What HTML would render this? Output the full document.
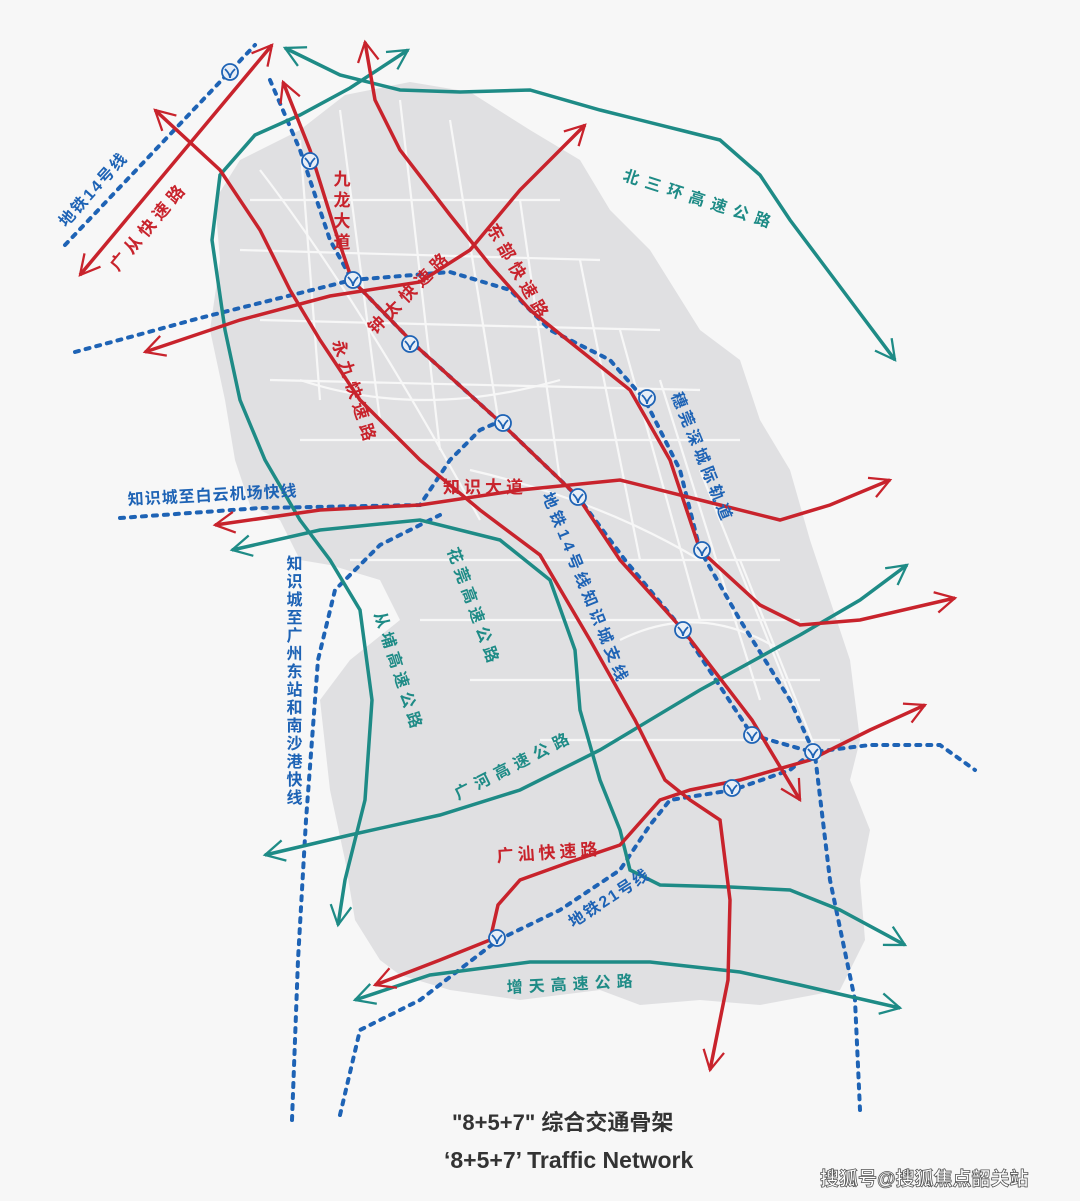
<!DOCTYPE html>
<html><head><meta charset="utf-8">
<style>
html,body{margin:0;padding:0;background:#f7f7f7;}
svg{display:block;}
text{font-family:"Liberation Sans","Noto Sans CJK SC",sans-serif;font-weight:bold;}
</style></head><body>
<svg width="1080" height="1201" viewBox="0 0 1080 1201" xmlns="http://www.w3.org/2000/svg">
<defs>
<marker id="ar2" viewBox="0 0 40 40" refX="34" refY="20" markerWidth="26" markerHeight="26" orient="auto-start-reverse" markerUnits="userSpaceOnUse">
<path d="M4,4 L34,20 L4,36" fill="none" stroke="#c8232c" stroke-width="3.5"/></marker>
<marker id="at2" viewBox="0 0 40 40" refX="34" refY="20" markerWidth="26" markerHeight="26" orient="auto-start-reverse" markerUnits="userSpaceOnUse">
<path d="M4,4 L34,20 L4,36" fill="none" stroke="#1e8b86" stroke-width="3.5"/></marker>
<symbol id="st" viewBox="-10 -10 20 20"><circle r="8" fill="#e8eef6" stroke="#1e63b5" stroke-width="1.8"/><path d="M-5,-3 Q0,2 0,6 M5,-3 Q0,2 0,6" stroke="#1e63b5" stroke-width="1.8" fill="none"/></symbol>
</defs>
<rect width="1080" height="1201" fill="#f7f7f7"/>
<path d="M300,130 L345,95 L410,82 L470,92 L530,130 L580,160 L610,210 L650,250 L700,330 L740,360 L760,420 L790,470 L810,540 L830,600 L850,660 L860,740 L850,780 L870,830 L860,880 L865,940 L840,990 L760,1005 L700,1000 L640,1005 L600,990 L520,1000 L450,990 L400,975 L380,960 L355,920 L345,860 L330,790 L320,700 L350,660 L400,620 L380,580 L330,565 L300,560 L280,520 L250,505 L235,460 L225,400 L210,330 L220,260 L215,200 L240,160 Z" fill="#e0e0e2"/>
<g stroke="#fafafa" stroke-width="2.2" fill="none" opacity="0.9">
<path d="M250,200 L560,200 M240,250 L600,260 M260,320 L660,330 M270,380 L700,390 M300,440 L740,440 M350,560 L780,560 M420,620 L800,620 M470,680 L820,680 M540,740 L840,740"/>
<path d="M300,140 L320,400 M340,110 L380,420 M400,100 L440,450 M450,120 L500,430 M520,200 L560,480 M580,260 L640,560 M620,330 L700,620 M660,380 L760,700 M700,470 L800,720 M740,560 L820,760"/>
<path d="M260,170 Q360,300 480,520 M300,380 Q420,420 560,380 M470,470 Q600,500 700,560 M620,640 Q700,600 780,650"/>
</g>
<g stroke="#1e63b5" stroke-width="4" fill="none" stroke-dasharray="4,7" stroke-linecap="round">
<path d="M65,245 L255,45"/>
<path d="M270,80 L300,150 L330,240 L352,280 L415,345 L500,422 L578,497 L625,560 L683,630 L752,735 L812,752"/>
<path d="M75,352 L200,318 L352,280 L450,272 L510,290 L550,330 L610,360 L645,400 L680,470 L700,550 L740,620 L790,700 L815,755 L830,880 L855,1000 L860,1110"/>
<path d="M120,518 L260,508 L420,505 L450,460 L480,430 L503,420"/>
<path d="M292,1120 L298,960 L306,820 L318,660 L335,590 L380,545 L440,515"/>
<path d="M340,1115 L360,1030 L420,1000 L498,940 L560,910 L620,870 L650,825 L670,800 L733,790 L790,770 L813,752 L870,745 L940,745 L975,770"/>
</g>
<g stroke="#1e8b86" stroke-width="3.5" fill="none">
<path d="M285,48 L340,75 L400,90 L460,92 L530,90 L600,110 L680,130 L720,140 L760,175 L790,220 L820,260 L850,300 L895,360" marker-start="url(#at2)" marker-end="url(#at2)"/>
<path d="M408,50 L350,88 L300,115 L255,135 L220,175 L212,240 L225,330 L240,400 L265,460 L300,520 L330,560 L360,610 L372,700 L365,800 L345,880 L338,925" marker-start="url(#at2)" marker-end="url(#at2)"/>
<path d="M232,550 L320,530 L420,520 L500,540 L550,580 L575,650 L580,710 L600,780 L620,830 L630,870 L660,885 L730,887 L790,890 L840,910 L905,945" marker-start="url(#at2)" marker-end="url(#at2)"/>
<path d="M265,855 L350,835 L440,815 L520,790 L600,750 L700,690 L800,635 L860,600 L907,565" marker-start="url(#at2)" marker-end="url(#at2)"/>
<path d="M355,1000 L430,975 L530,962 L650,962 L740,972 L800,985 L900,1008" marker-start="url(#at2)" marker-end="url(#at2)"/>
</g>
<g stroke="#c8232c" stroke-width="3.5" fill="none">
<path d="M80,275 L272,45" marker-start="url(#ar2)" marker-end="url(#ar2)"/>
<path d="M155,110 L220,170 L260,230 L290,290 L320,340 L360,400 L420,460 L480,510 L540,555 L590,640 L635,720 L665,780 L690,800 L720,820 L730,900 L728,980 L710,1070" marker-start="url(#ar2)" marker-end="url(#ar2)"/>
<path d="M365,42 L375,100 L400,150 L450,215 L490,265 L530,310 L580,350 L630,390 L670,460 L700,550 L760,605 L800,625 L860,620 L955,598" marker-start="url(#ar2)" marker-end="url(#ar2)"/>
<path d="M283,82 L310,150 L335,230 L352,280 L415,345 L500,422 L578,497 L620,560 L683,630 L752,720 L800,800" marker-start="url(#ar2)" marker-end="url(#ar2)"/>
<path d="M145,352 L240,320 L330,296 L420,282 L470,250 L520,190 L585,125" marker-start="url(#ar2)" marker-end="url(#ar2)"/>
<path d="M215,525 L320,510 L420,505 L520,490 L620,480 L720,505 L780,520 L830,505 L890,480" marker-start="url(#ar2)" marker-end="url(#ar2)"/>
<path d="M375,985 L440,960 L490,940 L498,905 L520,880 L570,862 L620,845 L660,800 L690,790 L740,780 L810,760 L870,730 L925,705" marker-start="url(#ar2)" marker-end="url(#ar2)"/>
</g>
<g>
<use href="#st" x="220" y="62" width="20" height="20"/>
<use href="#st" x="300" y="151" width="20" height="20"/>
<use href="#st" x="343" y="270" width="20" height="20"/>
<use href="#st" x="400" y="334" width="20" height="20"/>
<use href="#st" x="493" y="413" width="20" height="20"/>
<use href="#st" x="568" y="487" width="20" height="20"/>
<use href="#st" x="637" y="388" width="20" height="20"/>
<use href="#st" x="692" y="540" width="20" height="20"/>
<use href="#st" x="673" y="620" width="20" height="20"/>
<use href="#st" x="742" y="725" width="20" height="20"/>
<use href="#st" x="722" y="778" width="20" height="20"/>
<use href="#st" x="803" y="742" width="20" height="20"/>
<use href="#st" x="487" y="928" width="20" height="20"/>
</g>
<g font-size="17" fill="#c8232c">
<text transform="translate(118,272) rotate(-50)" letter-spacing="5">广从快速路</text>
<text x="340" y="170" style="writing-mode:tb" letter-spacing="4">九龙大道</text>
<text transform="translate(375,335) rotate(-45)" letter-spacing="5">钟太快速路</text>
<text transform="translate(486,228) rotate(60)" letter-spacing="5">东部快速路</text>
<text transform="translate(332,342) rotate(72)" letter-spacing="5">永九快速路</text>
<text x="443" y="493" letter-spacing="4">知识大道</text>
<text x="497" y="862" letter-spacing="4" transform="rotate(-4 497 862)">广汕快速路</text>
</g>
<g font-size="16" fill="#1e8b86">
<text transform="translate(622,180) rotate(18)" letter-spacing="7">北三环高速公路</text>
<text transform="translate(447,550) rotate(70)" letter-spacing="5">花莞高速公路</text>
<text transform="translate(374,614) rotate(72)" letter-spacing="5">从埔高速公路</text>
<text transform="translate(458,800) rotate(-27)" letter-spacing="6">广河高速公路</text>
<text transform="translate(507,993) rotate(-3)" letter-spacing="6">增天高速公路</text>
</g>
<g font-size="16" fill="#1e63b5">
<text transform="translate(66,228) rotate(-48)" letter-spacing="2">地铁14号线</text>
<text transform="translate(128,505) rotate(-3)" letter-spacing="1">知识城至白云机场快线</text>
<text x="292" y="555" style="writing-mode:tb" letter-spacing="2">知识城至广州东站和南沙港快线</text>
<text transform="translate(542,495) rotate(68)" letter-spacing="4">地铁14号线知识城支线</text>
<text transform="translate(671,395) rotate(68)" letter-spacing="4">穗莞深城际轨道</text>
<text transform="translate(573,928) rotate(-33)" letter-spacing="2">地铁21号线</text>
</g>
<text x="452" y="1130" font-size="22" fill="#333">"8+5+7" 综合交通骨架</text>
<text x="444" y="1168" font-size="23" fill="#333">‘8+5+7’ Traffic Network</text>
<text x="820" y="1185" font-size="19" fill="#fff" stroke="#555" stroke-width="0.8" font-weight="normal">搜狐号@搜狐焦点韶关站</text>
</svg>
</body></html>
